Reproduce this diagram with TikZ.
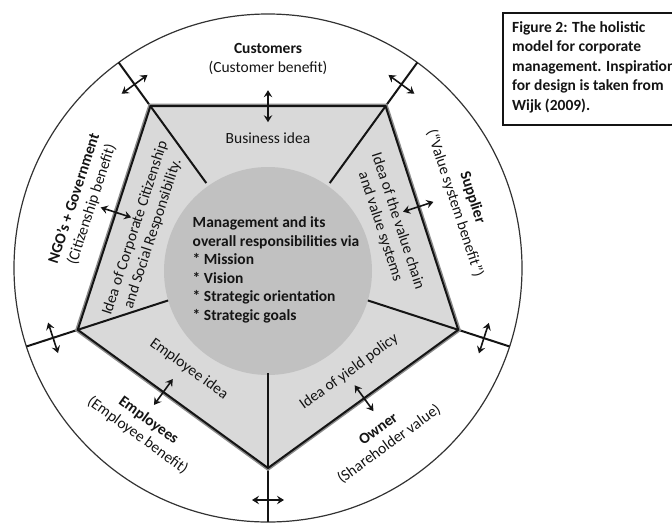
\documentclass[tikz,border=0pt]{standalone}
\usepackage{fontspec}
\setmainfont{Carlito}
\usetikzlibrary{calc,arrows.meta}
\definecolor{pentfill}{RGB}{217,217,217}
\definecolor{corefill}{RGB}{193,193,193}
\definecolor{ink}{RGB}{20,20,20}
\begin{document}
\begin{tikzpicture}[x=1pt,y=-1pt,
  lbl/.style={font=\fontsize{15.5}{18.5}\selectfont, align=center, inner sep=0pt, text=ink},
  radial/.style={line width=2pt, draw=ink},
  twoway/.style={line width=1.6pt, draw=ink, >={Stealth[length=7pt,width=8.5pt,inset=2.5pt]}, <->},
]
\useasboundingbox (0,0) rectangle (672,523);
\clip (0,0) rectangle (672,523);

% centre of the model
\coordinate (O) at (268,268);

% pentagon corners (V), outer ends of the spokes (W), inner ends (C), outline shadow (G)
\foreach \n/\a in {tl/-126, tr/-54, rt/18, bt/90, lt/162} {
  \coordinate (V\n) at ($(O)+(\a:200)$);
  \coordinate (G\n) at ($(O)+(\a:201.5)$);
  \coordinate (W\n) at ($(O)+(\a:254)$);
  \coordinate (C\n) at ($(O)+(\a:105)$);
}

% outer ring
\node[circle, draw=black!80, line width=1.2pt, minimum size=508pt, inner sep=0pt] (ring) at (O) {};

% pentagon body and management core
\fill[pentfill] (Vtl) -- (Vtr) -- (Vrt) -- (Vbt) -- (Vlt) -- cycle;
\node[circle, fill=corefill, minimum size=208pt, inner sep=0pt] (core) at (268,271) {};

% spokes through the corners
\foreach \n in {tl,tr,rt,bt,lt} \draw[radial] (C\n) -- (W\n);

% pentagon outline with a soft grey edge
\draw[line width=2.5pt, draw=black!45, line join=miter] (Gtl) -- (Gtr) -- (Grt) -- (Gbt) -- (Glt) -- cycle;
\draw[line width=2pt, draw=ink, line join=miter] (Vtl) -- (Vtr) -- (Vrt) -- (Vbt) -- (Vlt) -- cycle;

% two-way arrows across the pentagon sides
\foreach \p/\q/\t in {tl/tr/0.5, lt/tl/0.525, tr/rt/0.45, rt/bt/0.495, bt/lt/0.55} {
  \coordinate (M\p) at ($(V\p)!\t!(V\q)$);
  \draw[twoway] ($(M\p)!16pt!90:(V\q)$) -- ($(M\p)!16pt!-90:(V\q)$);
}

% two-way arrows across the spokes
\foreach \n/\a/\d in {tl/-126/227, tr/-54/227, rt/18/227, bt/90/232, lt/162/226} {
  \coordinate (R\n) at ($(O)+(\a:\d)$);
  \draw[twoway] ($(R\n)!16pt!90:(O)$) -- ($(R\n)!16pt!-90:(O)$);
}

% stakeholder labels in the ring
\node[lbl] (cust) at (268,59) {\textbf{Customers}\\(Customer benefit)};
\node[lbl, rotate=71.9] (ngo) at (83,201.5) {\textbf{NGO's + Government}\\(Citizenship benefit)};
\node[lbl, rotate=-71.9] (supp) at (463.5,200.5) {\textbf{Supplier}\\(“Value system benefit”)};
\node[lbl, rotate=-36] (empl) at (143,428) {\textbf{Employees}\\(Employee benefit)};
\node[lbl, rotate=36] (own) at (384,437) {\textbf{Owner}\\(Shareholder value)};

% idea labels inside the pentagon
\node[lbl] (bidea) at (268,138) {Business idea};
\node[lbl, rotate=71.9] (csr) at (144,231) {Idea of Corporate Citizenship\\and Social Responsibility.};
\node[lbl, rotate=-71.9] (chain) at (389,224) {Idea of the value chain\\and value systems};
\node[lbl, rotate=-36] (eidea) at (189,369) {Employee idea};
\node[lbl, rotate=36] (yield) at (349,372) {Idea of yield policy};

% core text
\node[lbl, font=\fontsize{15.5}{18.5}\selectfont\bfseries, align=left] (mgmt) at (276,270)
  {Management and its\\overall responsibilities via\\* Mission\\* Vision\\* Strategic orientation\\* Strategic goals};

% caption box
\draw[line width=1.6pt, draw=ink] (503,13) rectangle (700,125);
\node[anchor=north west, align=left, inner sep=0pt, text=ink,
      font=\fontsize{15.5}{19.5}\selectfont\bfseries] (cap) at (512,21)
  {Figure 2: The holistic\\model for corporate\\management. Inspiration\\for design is taken from\\Wijk (2009).};
\end{tikzpicture}
\end{document}
